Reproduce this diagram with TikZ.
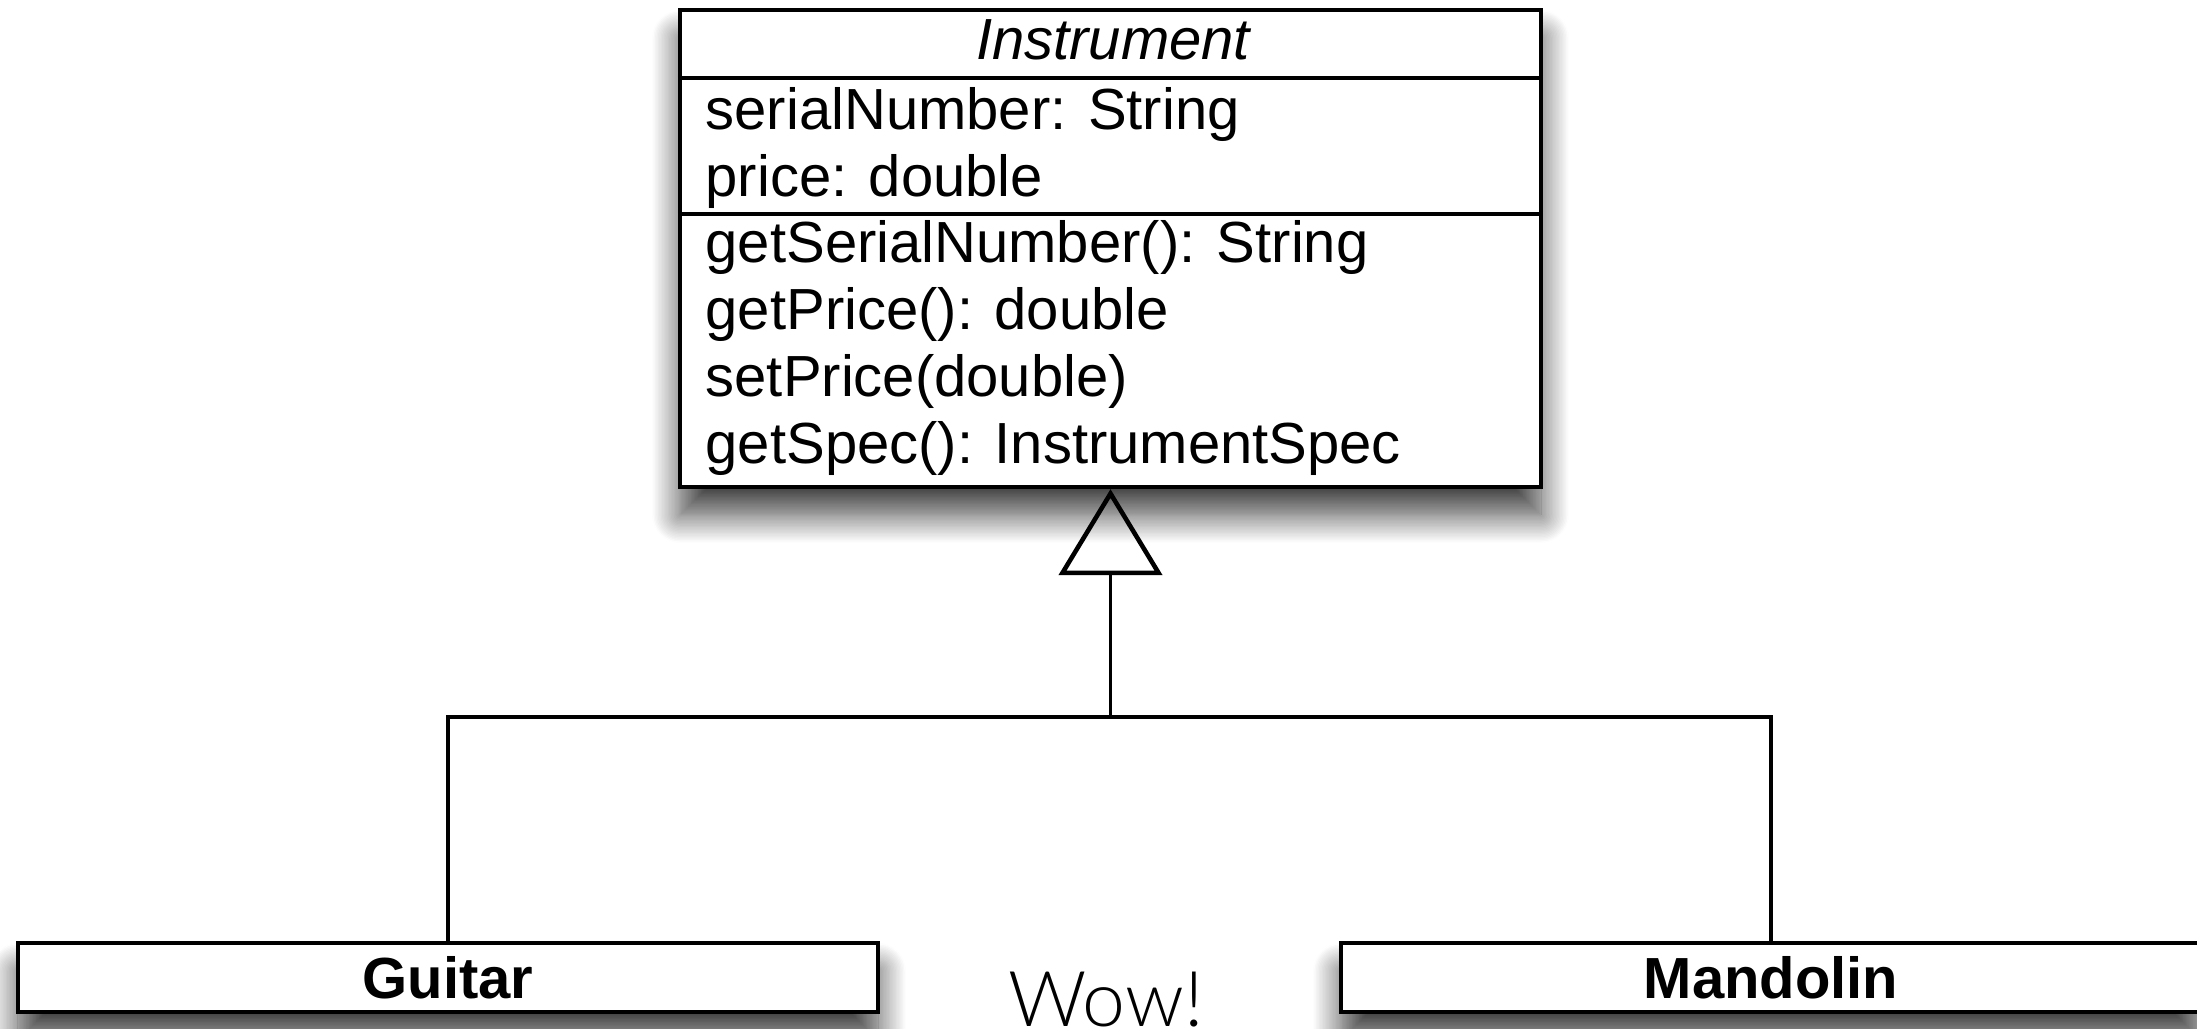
\documentclass[tikz,border=0pt]{standalone}
\usepackage{fontspec}
\setmainfont{Liberation Sans}
\IfFontExistsTF{Lato Light}{\newfontfamily\wowfont{Lato Light}}{\newfontfamily\wowfont{Liberation Sans}}
\usepackage{tikz}
\usetikzlibrary{arrows.meta}
\usetikzlibrary{shadows.blur}

\begin{document}
\begin{tikzpicture}[font=\fontsize{16.5}{19}\selectfont,
		classbox/.style={rectangle, draw, line width=1.2pt, fill=white, inner sep=0pt,
			blur shadow={shadow xshift=0cm, shadow yshift=-0.28cm, shadow blur radius=0.28cm, shadow blur steps=20, shadow opacity=75}},
		member/.style={anchor=base west, inner sep=0pt},
		inherit/.style={line width=1pt, -{Triangle[open, length=0.86cm, width=1.03cm, line width=1.3pt]}}]
		\useasboundingbox (0,0) rectangle (21.97,-10.29);

		% Superclass
		\node[classbox, minimum width=8.61cm, minimum height=4.77cm] (INST) at (11.105,-2.485) {};
		\draw[line width=1.2pt] (INST.west |- 0,-0.78) -- (INST.east |- 0,-0.78);
		\draw[line width=1.2pt] (INST.west |- 0,-2.14) -- (INST.east |- 0,-2.14);
		\node[anchor=base, inner sep=0pt] (INST_name) at (11.13,-0.60) {\itshape Instrument};

		\node[member] (A_serial) at (7.05,-1.30) {serialNumber: String};
		\node[member] (A_price) at (7.05,-1.97) {price: double};

		\node[member] (M_getserial) at (7.05,-2.63) {getSerialNumber(): String};
		\node[member] (M_getprice) at (7.05,-3.30) {getPrice(): double};
		\node[member] (M_setprice) at (7.05,-3.97) {setPrice(double)};
		\node[member] (M_getspec) at (7.05,-4.64) {getSpec(): InstrumentSpec};

		% Subclasses
		\node[classbox, minimum width=8.60cm, minimum height=0.69cm] (GUIT) at (4.48,-9.775) {\bfseries Guitar};
		\node[classbox, minimum width=8.60cm, minimum height=0.69cm] (MAND) at (17.71,-9.775) {\bfseries Mandolin};

		\node[anchor=base, inner sep=0pt] (WOW) at (11.06,-10.27) {\wowfont\fontsize{21.9}{24}\selectfont Wow!};

		% Generalization
		\coordinate (join) at (INST.south |- 0,-7.17);
		\draw[line width=1pt] (GUIT.north) |- (join) -| (MAND.north);
		\draw[inherit] (join) -- (INST.south);
\end{tikzpicture}
\end{document}
